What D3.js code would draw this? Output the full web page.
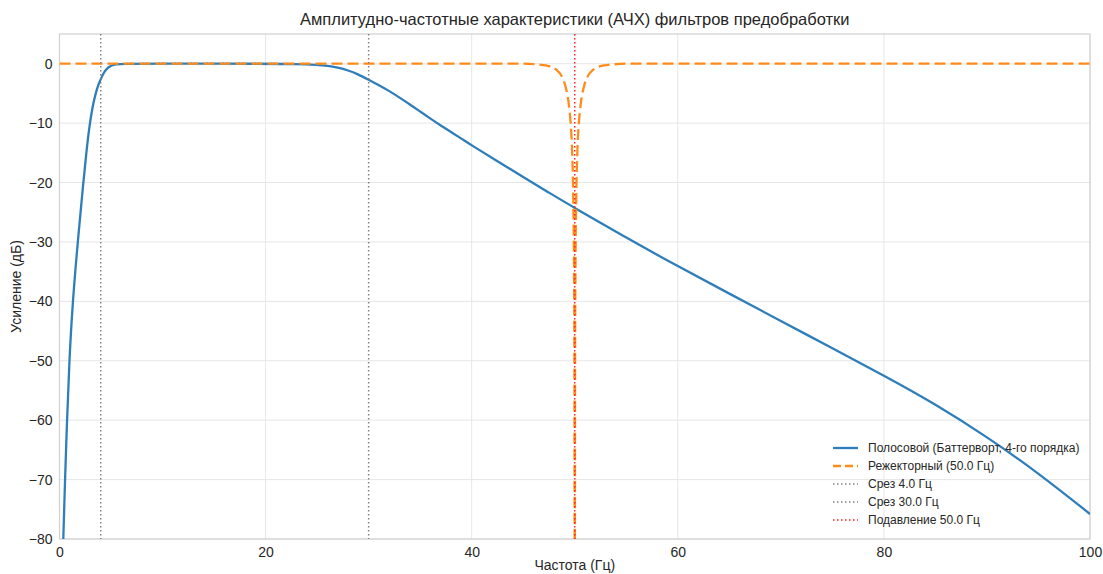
<!DOCTYPE html>
<html>
<head>
<meta charset="utf-8">
<script src="https://cdn.jsdelivr.net/npm/d3@7"></script>
<style>
  body { margin: 0; background: #fff; }
  svg text { font-family: "Liberation Sans", Arial, sans-serif; fill: #262626; }
</style>
</head>
<body>
<div id="chart"></div>
<script>
// Polosovoy (bandpass) curve: [frequency, dB]
var bandpassFreq = [0.37, 0.5, 0.73, 0.95, 1.28, 1.77, 2.31, 2.6, 2.9, 3.2, 3.5, 3.8, 4.0, 4.3, 4.6, 5.0, 5.5, 6, 10, 20, 23, 25, 26, 27, 28, 29, 30, 31, 32, 33, 34, 35, 36, 37, 38, 39, 40, 42.5, 45, 47.5, 50, 55, 60, 65, 70, 75, 80, 85, 90, 95, 100];
var bandpassDb = [-80, -72, -60, -50, -40, -30, -20, -15, -10.5, -7.3, -5.0, -3.4, -2.6, -1.5, -0.8, -0.3, -0.08, 0, 0, 0, -0.05, -0.2, -0.35, -0.65, -1.1, -1.8, -2.7, -3.6, -4.6, -5.7, -6.85, -8.05, -9.25, -10.4, -11.5, -12.6, -13.75, -16.4, -19.1, -21.7, -24.3, -29.3, -34.1, -38.7, -43.3, -47.9, -52.5, -57.3, -62.8, -68.9, -75.8];

// Notch (rezhektorny) curve
var notchFreq = [0, 45, 46.5, 47.5, 48.2, 48.7, 49.1, 49.4, 49.6, 49.75, 49.85, 49.93, 49.97, 50, 50.03, 50.07, 50.15, 50.25, 50.4, 50.6, 50.9, 51.3, 51.8, 52.5, 53.5, 55, 100];
var notchDb = [0, 0, -0.15, -0.4, -1.0, -2.0, -3.8, -6.5, -10, -15, -22, -35, -50, -90, -50, -35, -22, -15, -10, -6.5, -3.8, -2.0, -1.0, -0.4, -0.15, 0, 0];

var cutoffs = [4.0, 30.0];
var notchAt = 50.0;

var xTicks = [0, 20, 40, 60, 80, 100];
var yTicks = [0, -10, -20, -30, -40, -50, -60, -70, -80];

var legendLabels = [
    "Полосовой (Баттерворт, 4-го порядка)",
    "Режекторный (50.0 Гц)",
    "Срез 4.0 Гц",
    "Срез 30.0 Гц",
    "Подавление 50.0 Гц"
];

var width = 1103;
var height = 574;
var margin = { left: 59.5, right: 13, top: 34, bottom: 35 };

var svg = d3.select("#chart")
    .append("svg")
    .attr("width", width)
    .attr("height", height);

var x = d3.scaleLinear().domain([0, 100]).range([margin.left, width - margin.right]);
var y = d3.scaleLinear().domain([-80, 5]).range([height - margin.bottom, margin.top]);

svg.append("defs").append("clipPath").attr("id", "clip")
    .append("rect")
    .attr("x", x(0)).attr("y", y(5))
    .attr("width", x(100) - x(0)).attr("height", y(-80) - y(5));

// grid
svg.append("g").selectAll("line").data(xTicks).enter().append("line")
    .attr("x1", d => x(d)).attr("x2", d => x(d))
    .attr("y1", y(5)).attr("y2", y(-80))
    .style("stroke", "#e6e6e6").style("stroke-width", 1);
svg.append("g").selectAll("line").data(yTicks).enter().append("line")
    .attr("x1", x(0)).attr("x2", x(100))
    .attr("y1", d => y(d)).attr("y2", d => y(d))
    .style("stroke", "#e6e6e6").style("stroke-width", 1);

// axes
var xAxis = svg.append("g")
    .attr("transform", "translate(0," + y(-80) + ")")
    .call(d3.axisBottom(x).tickValues(xTicks).tickSize(0).tickPadding(8).tickFormat(d3.format("d")));
var yAxis = svg.append("g")
    .attr("transform", "translate(" + x(0) + ",0)")
    .call(d3.axisLeft(y).tickValues(yTicks).tickSize(0).tickPadding(7).tickFormat(d => d < 0 ? "\u2212" + Math.abs(d) : d));
[xAxis, yAxis].forEach(function (a) {
    a.select(".domain").remove();
    a.selectAll("text").style("font-size", "14px").style("font-family", "Liberation Sans, Arial, sans-serif").attr("fill", "#333");
});

// frame
svg.append("rect")
    .attr("x", x(0)).attr("y", y(5))
    .attr("width", x(100) - x(0)).attr("height", y(-80) - y(5))
    .attr("fill", "none").style("stroke", "#d0d0d0").style("stroke-width", 1.2);

var plot = svg.append("g").attr("clip-path", "url(#clip)");

var line = d3.line().x(d => x(d[0])).y(d => y(d[1])).curve(d3.curveMonotoneX);
// smoother spline for the bandpass curve
var smooth = d3.line().x(d => x(d[0])).y(d => y(d[1])).curve(d3.curveBasis);

plot.append("path")
    .datum(d3.zip(bandpassFreq, bandpassDb))
    .attr("d", smooth)
    .attr("fill", "none")
    .style("stroke", "#2e7ebc")
    .style("stroke-width", 2.3);

plot.append("path")
    .datum(d3.zip(notchFreq, notchDb))
    .attr("d", line)
    .attr("fill", "none")
    .style("stroke", "#ff8c1a")
    .style("stroke-width", 2.3)
    .style("stroke-dasharray", "11,5");

// cut-off lines
plot.selectAll(".cut").data(cutoffs).enter().append("line")
    .attr("x1", d => x(d)).attr("x2", d => x(d))
    .attr("y1", y(5)).attr("y2", y(-80))
    .style("stroke", "#808080").style("stroke-width", 1.5).style("stroke-dasharray", "1.5,2.5");
plot.append("line")
    .attr("x1", x(notchAt)).attr("x2", x(notchAt))
    .attr("y1", y(5)).attr("y2", y(-80))
    .style("stroke", "#ff2020").style("stroke-width", 1.5).style("stroke-dasharray", "1.5,2.5");

// title + labels
svg.append("text")
    .attr("x", (x(0) + x(100)) / 2).attr("y", 25)
    .attr("text-anchor", "middle").style("font-size", "16.5px")
    .text("Амплитудно-частотные характеристики (АЧХ) фильтров предобработки");
svg.append("text")
    .attr("x", (x(0) + x(100)) / 2).attr("y", 570)
    .attr("text-anchor", "middle").style("font-size", "14px")
    .text("Частота (Гц)");
svg.append("text")
    .attr("transform", "translate(21," + ((y(5) + y(-80)) / 2) + ") rotate(-90)")
    .attr("text-anchor", "middle").style("font-size", "14px")
    .text("Усиление (дБ)");

// legend
var legendStyles = [
    { color: "#2e7ebc", dash: null, w: 2.3 },
    { color: "#ff8c1a", dash: "8,4", w: 2.3 },
    { color: "#808080", dash: "1.5,2.5", w: 1.5 },
    { color: "#808080", dash: "1.5,2.5", w: 1.5 },
    { color: "#ff2020", dash: "1.5,2.5", w: 1.5 }
];
var legend = svg.append("g").attr("transform", "translate(833,448)");
var items = legend.selectAll("g").data(legendLabels).enter().append("g")
    .attr("transform", (d, i) => "translate(0," + (i * 18) + ")");
items.append("line")
    .attr("x1", 0).attr("x2", 25).attr("y1", 0).attr("y2", 0)
    .style("stroke", (d, i) => legendStyles[i].color)
    .style("stroke-width", (d, i) => legendStyles[i].w)
    .style("stroke-dasharray", (d, i) => legendStyles[i].dash);
items.append("text")
    .attr("x", 35).attr("y", 4)
    .style("font-size", "12px")
    .text(d => d);
</script>
</body>
</html>
